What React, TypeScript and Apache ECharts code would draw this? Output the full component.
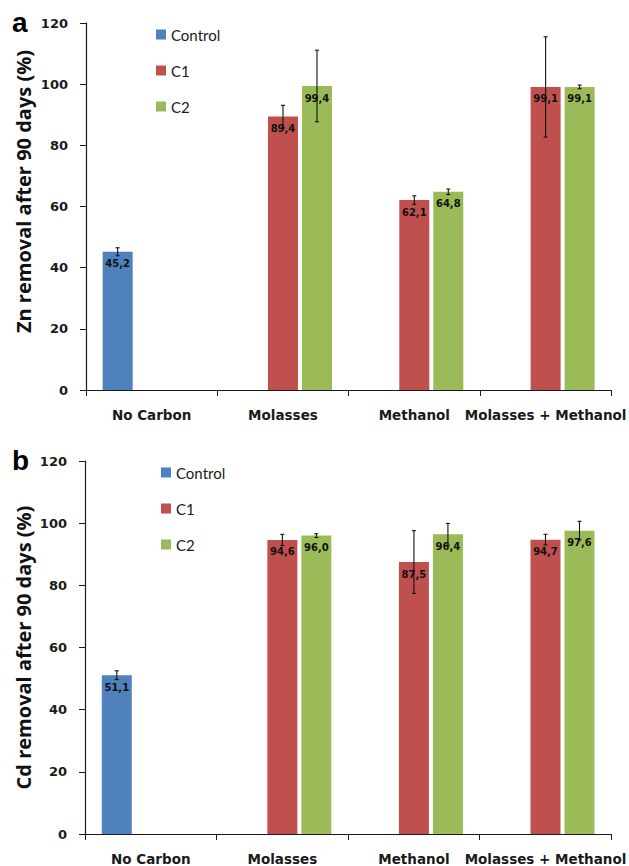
import React, { useEffect, useRef } from "react";
import * as echarts from "echarts";

const categories = ["No Carbon", "Molasses", "Methanol", "Molasses + Methanol"];
const seriesNames = ["Control", "C1", "C2"];

const znControl = [45.2, null, null, null];
const znC1 = [null, 89.4, 62.1, 99.1];
const znC2 = [null, 99.4, 64.8, 99.1];
const znControlErr = [1.3, null, null, null];
const znC1Err = [null, 3.7, 1.4, 16.4];
const znC2Err = [null, 11.7, 0.9, 0.6];

const cdControl = [51.1, null, null, null];
const cdC1 = [null, 94.6, 87.5, 94.7];
const cdC2 = [null, 96.0, 96.4, 97.6];
const cdControlErr = [1.4, null, null, null];
const cdC1Err = [null, 1.8, 10.1, 1.7];
const cdC2Err = [null, 0.6, 3.5, 3.0];

const yMin = 0;
const yMax = 120;
const yInterval = 20;

const titleA = "Zn removal after 90 days (%)";
const titleB = "Cd removal after 90 days (%)";

const colors = ["#4F81BD", "#C0504D", "#9BBB59"];
const FONT = "Lato, 'Open Sans', sans-serif";
const WIDE = "'DejaVu Sans', Verdana, sans-serif";
const BAR_W = 30;
const SLOT = 34;

function fmt(v: number) {
  return v.toFixed(1).replace(".", ",");
}

function barSeries(name: string, data: (number | null)[], color: string, gi: number) {
  return {
    type: "bar",
    name,
    xAxisIndex: gi,
    yAxisIndex: gi,
    data: data.map((v) => (v == null ? "-" : v)),
    barWidth: BAR_W,
    barGap: "13.33%",
    itemStyle: { color },
    label: {
      show: true,
      position: "insideTop",
      distance: 7,
      formatter: (p: any) => fmt(p.value),
      fontFamily: WIDE,
      fontWeight: "bold",
      fontSize: 10,
      color: "#111",
    },
    z: 2,
  };
}

function errSeries(vals: (number | null)[], errs: (number | null)[], offset: number, gi: number) {
  const data: number[][] = [];
  vals.forEach((v, i) => {
    if (v != null && errs[i] != null) data.push([i, v, errs[i] as number]);
  });
  return {
    type: "custom",
    xAxisIndex: gi,
    yAxisIndex: gi,
    data,
    z: 10,
    silent: true,
    renderItem: (params: any, api: any) => {
      const i = api.value(0);
      const v = api.value(1);
      const e = api.value(2);
      const top = api.coord([i, v + e]);
      const bot = api.coord([i, v - e]);
      const x = top[0] + offset;
      const cap = 2;
      const style = { stroke: "#111", lineWidth: 1.1 };
      return {
        type: "group",
        children: [
          { type: "line", shape: { x1: x, y1: top[1], x2: x, y2: bot[1] }, style },
          { type: "line", shape: { x1: x - cap, y1: top[1], x2: x + cap, y2: top[1] }, style },
          { type: "line", shape: { x1: x - cap, y1: bot[1], x2: x + cap, y2: bot[1] }, style },
        ],
      };
    },
  };
}

function xAxisOpt(gi: number) {
  return {
    type: "category",
    gridIndex: gi,
    data: categories,
    axisLine: { lineStyle: { color: "#1a1a1a", width: 1.2 } },
    axisTick: { show: true, length: 6, lineStyle: { color: "#1a1a1a" } },
    axisLabel: {
      interval: 0,
      margin: 18,
      fontFamily: WIDE,
      fontWeight: "bold",
      fontSize: 13.5,
      color: "#1a1a1a",
    },
  };
}

function yAxisOpt(gi: number) {
  return {
    type: "value",
    gridIndex: gi,
    min: yMin,
    max: yMax,
    interval: yInterval,
    splitLine: { show: false },
    axisLine: { show: true, lineStyle: { color: "#1a1a1a", width: 1.2 } },
    axisTick: { show: true, length: 6, lineStyle: { color: "#1a1a1a" } },
    axisLabel: {
      margin: 18,
      fontFamily: WIDE,
      fontWeight: "bold",
      fontSize: 13,
      color: "#1a1a1a",
    },
  };
}

function legendOpt(left: number, top: number) {
  return {
    orient: "vertical",
    left,
    top,
    padding: 0,
    data: seriesNames,
    icon: "rect",
    itemWidth: 10,
    itemHeight: 10,
    itemGap: 21,
    textStyle: { fontFamily: FONT, fontSize: 15, color: "#1a1a1a", lineHeight: 14 },
  };
}

function titleText(text: string, x: number, y: number) {
  return {
    type: "text",
    x,
    y,
    rotation: Math.PI / 2,
    style: {
      text,
      align: "center",
      verticalAlign: "middle",
      font: "bold 20px 'Open Sans', Lato, sans-serif",
      fill: "#111",
    },
  };
}

export default function App() {
  const ref = useRef<HTMLDivElement>(null);
  useEffect(() => {
    if (!ref.current) return;
    const chart = echarts.init(ref.current, null, { renderer: "svg" });
    const option: any = {
      animation: false,
      backgroundColor: "#ffffff",
      grid: [
        { left: 86, right: 14, top: 23, height: 367 },
        { left: 85, right: 15, top: 461, height: 374 },
      ],
      legend: [legendOpt(156, 27), legendOpt(161, 465)],
      xAxis: [xAxisOpt(0), xAxisOpt(1)],
      yAxis: [yAxisOpt(0), yAxisOpt(1)],
      graphic: [
        {
          type: "text",
          left: 12,
          top: 8,
          style: { text: "a", font: "bold 28px 'Liberation Sans', Arial, sans-serif", fill: "#000" },
        },
        {
          type: "text",
          left: 12,
          top: 446,
          style: { text: "b", font: "bold 28px 'Liberation Sans', Arial, sans-serif", fill: "#000" },
        },
        titleText(titleA, 23, 191.5),
        titleText(titleB, 23, 647.5),
      ],
      series: [
        barSeries("Control", znControl, colors[0], 0),
        barSeries("C1", znC1, colors[1], 0),
        barSeries("C2", znC2, colors[2], 0),
        errSeries(znControl, znControlErr, -SLOT, 0),
        errSeries(znC1, znC1Err, 0, 0),
        errSeries(znC2, znC2Err, SLOT, 0),
        barSeries("Control", cdControl, colors[0], 1),
        barSeries("C1", cdC1, colors[1], 1),
        barSeries("C2", cdC2, colors[2], 1),
        errSeries(cdControl, cdControlErr, -SLOT, 1),
        errSeries(cdC1, cdC1Err, 0, 1),
        errSeries(cdC2, cdC2Err, SLOT, 1),
      ],
    };
    chart.setOption(option);
    return () => chart.dispose();
  }, []);
  return (
    <div
      ref={ref}
      style={{ position: "absolute", left: 0, top: 0, width: 629, height: 866, background: "#fff" }}
    />
  );
}
